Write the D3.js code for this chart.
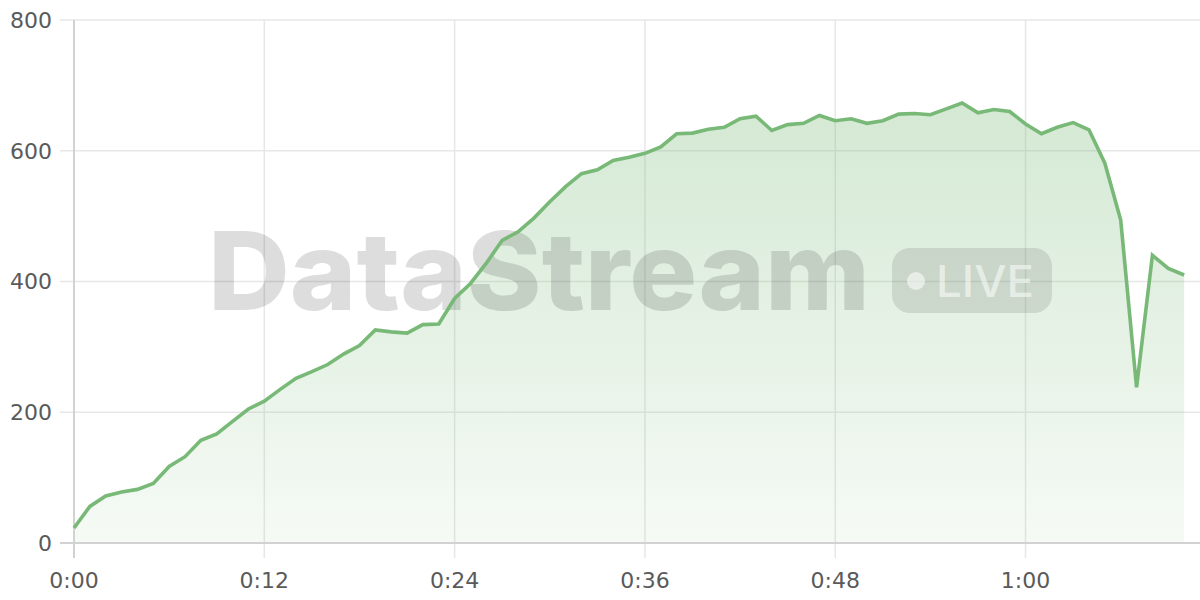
<!DOCTYPE html>
<html>
<head>
<meta charset="utf-8">
<script src="https://cdn.jsdelivr.net/npm/d3@7"></script>
<style>
  html, body { margin: 0; padding: 0; background: #ffffff; }
  svg { display: block; }
</style>
</head>
<body>
<svg id="chart" width="1200" height="600"></svg>
<script>
// minutes since start (one sample per minute)
const minutes = d3.range(0, 71);
const values = [
  23, 56, 72, 78, 82, 91, 117, 132, 157, 167,
  186, 205, 217, 235, 252, 262, 273, 289, 302, 326,
  323, 321, 334, 335, 374, 397, 428, 463, 476, 497,
  522, 545, 565, 571, 585, 590, 596, 606, 626, 627,
  633, 636, 649, 653, 631, 640, 642, 654, 646, 649,
  642, 646, 656, 657, 655, 664, 673, 658, 663, 660,
  641, 626, 636, 643, 632, 581, 494, 238, 440, 420,
  410
];
const xTicks = [0, 12, 24, 36, 48, 60];
const yTicks = [0, 200, 400, 600, 800];
const fmtTime = m => Math.floor(m / 60) + ":" + String(m % 60).padStart(2, "0");

const data = minutes.map((m, i) => ({ m, v: values[i] }));

const svg = d3.select("#chart");
const x = d3.scaleLinear().domain([0, 71]).range([74, 1200]);
const y = d3.scaleLinear().domain([0, 800]).range([543, 20]);

const green = "#78b978";

// gradient
const defs = svg.append("defs");
const grad = defs.append("linearGradient")
  .attr("id", "areaGrad")
  .attr("gradientUnits", "userSpaceOnUse")
  .attr("x1", 0).attr("x2", 0)
  .attr("y1", y(d3.max(values))).attr("y2", y(0));
grad.append("stop").attr("offset", "0%").attr("stop-color", green).attr("stop-opacity", 0.32);
grad.append("stop").attr("offset", "100%").attr("stop-color", green).attr("stop-opacity", 0.07);

// grid: horizontal
const gGrid = svg.append("g");
gGrid.selectAll("line.h").data(yTicks.filter(t => t > 0)).join("line")
  .attr("x1", 60).attr("x2", 1200)
  .attr("y1", d => y(d)).attr("y2", d => y(d))
  .attr("stroke", "#e7e7e7").attr("stroke-width", 1.5);
// grid: vertical
gGrid.selectAll("line.v").data(xTicks.filter(t => t > 0)).join("line")
  .attr("x1", d => x(d)).attr("x2", d => x(d))
  .attr("y1", 20).attr("y2", 558)
  .attr("stroke", "#e7e7e7").attr("stroke-width", 1.5);

// area
const area = d3.area().x(d => x(d.m)).y0(y(0)).y1(d => y(d.v));
svg.append("path").datum(data).attr("d", area).attr("fill", "url(#areaGrad)");

// axes lines
svg.append("line").attr("x1", x(0)).attr("x2", x(0)).attr("y1", 20).attr("y2", 558)
  .attr("stroke", "#d2d2d2").attr("stroke-width", 2);
svg.append("line").attr("x1", 60).attr("x2", 1200).attr("y1", y(0)).attr("y2", y(0))
  .attr("stroke", "#d2d2d2").attr("stroke-width", 2);

// watermark
const wm = svg.append("g").attr("pointer-events", "none");
wm.append("text")
  .attr("x", 208).attr("y", 310)
  .attr("font-family", "Inter, 'Noto Sans', sans-serif")
  .attr("font-weight", 800)
  .attr("font-size", 108)
  .attr("textLength", 662).attr("lengthAdjust", "spacingAndGlyphs")
  .attr("fill", "rgba(0,0,0,0.135)")
  .text("DataStream");
wm.append("rect")
  .attr("x", 892).attr("y", 248).attr("width", 160).attr("height", 65).attr("rx", 18)
  .attr("fill", "rgba(0,0,0,0.10)");
wm.append("circle").attr("cx", 916).attr("cy", 281).attr("r", 9)
  .attr("fill", "rgba(255,255,255,0.55)");
wm.append("text")
  .attr("x", 936).attr("y", 297)
  .attr("font-family", "Inter, 'Noto Sans', sans-serif")
  .attr("font-weight", 500)
  .attr("font-size", 44)
  .attr("textLength", 98).attr("lengthAdjust", "spacingAndGlyphs")
  .attr("fill", "rgba(255,255,255,0.55)")
  .text("LIVE");

// line
const line = d3.line().x(d => x(d.m)).y(d => y(d.v));
svg.append("path").datum(data).attr("d", line)
  .attr("fill", "none").attr("stroke", green).attr("stroke-width", 3.6)
  .attr("stroke-linejoin", "miter");

// tick labels
const labelFont = "'DejaVu Sans', sans-serif";
svg.append("g").selectAll("text").data(yTicks).join("text")
  .attr("x", 52).attr("y", d => y(d)).attr("dy", "0.36em")
  .attr("text-anchor", "end")
  .attr("font-family", labelFont).attr("font-size", 22)
  .attr("fill", "#5a5a5a")
  .text(d => d);
svg.append("g").selectAll("text").data(xTicks).join("text")
  .attr("x", d => x(d)).attr("y", 588)
  .attr("text-anchor", "middle")
  .attr("font-family", labelFont).attr("font-size", 22)
  .attr("fill", "#5a5a5a")
  .text(d => fmtTime(d));
</script>
</body>
</html>
